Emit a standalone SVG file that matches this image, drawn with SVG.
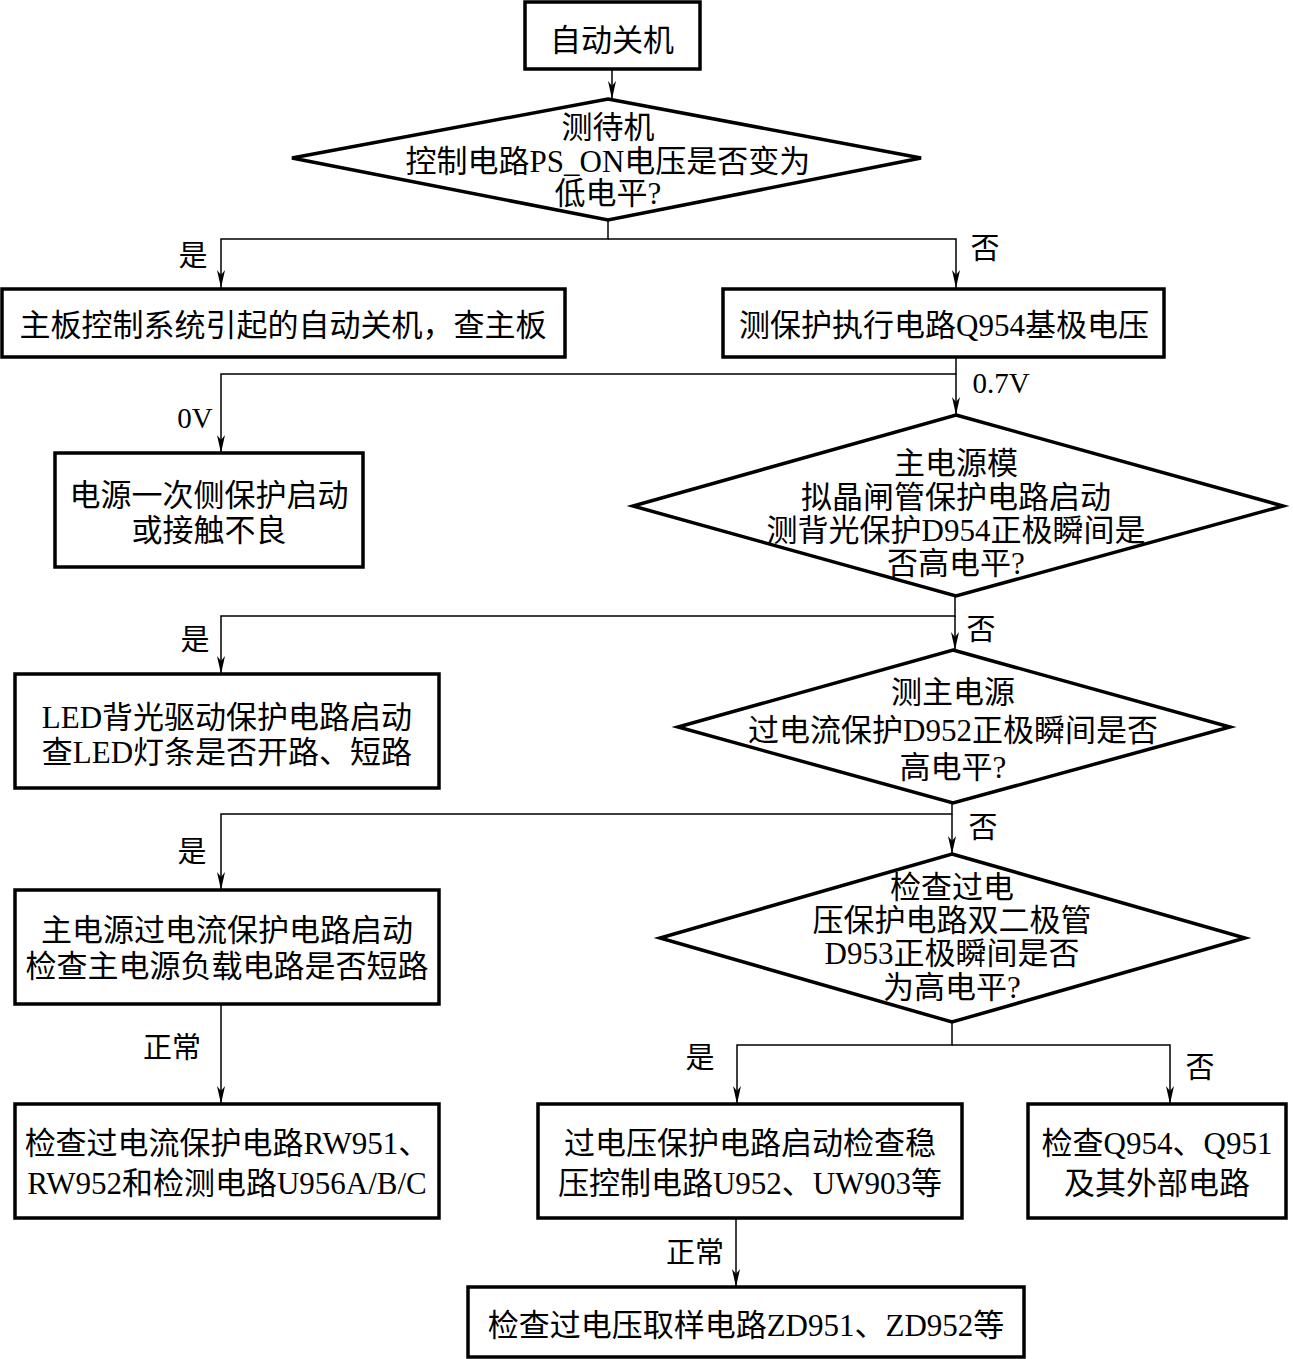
<svg xmlns="http://www.w3.org/2000/svg" width="1293" height="1359" viewBox="0 0 1293 1359">
<defs>
<style>
.n{fill:#fff;stroke:#000;stroke-width:3.5}
.c{fill:none;stroke:#000;stroke-width:1.5}
text{font-family:"Liberation Serif","Noto Sans CJK SC",serif;font-size:31px;fill:#000;text-anchor:middle;dominant-baseline:central}
.l{font-size:29px}
</style>
<marker id="a" viewBox="0 0 18 8" refX="18" refY="4" markerWidth="18" markerHeight="8" markerUnits="userSpaceOnUse" orient="auto">
<path d="M0,0 L18,4 L0,8 L5,4 Z" fill="#000"/>
</marker>
</defs>
<rect width="1293" height="1359" fill="#fff"/>
<g id="connectors">
<path class="c" d="M612,69 V99" marker-end="url(#a)"/>
<path class="c" d="M608,220 V239 H221 V288" marker-end="url(#a)"/>
<path class="c" d="M608,239 H956 V288" marker-end="url(#a)"/>
<path class="c" d="M956,357 V374 H221 V453" marker-end="url(#a)"/>
<path class="c" d="M956,374 V415" marker-end="url(#a)"/>
<path class="c" d="M955,596 V616 H221 V674" marker-end="url(#a)"/>
<path class="c" d="M955,616 V650" marker-end="url(#a)"/>
<path class="c" d="M952,803 V814 H221 V890" marker-end="url(#a)"/>
<path class="c" d="M952,814 V854" marker-end="url(#a)"/>
<path class="c" d="M952,1022 V1045 H737 V1104" marker-end="url(#a)"/>
<path class="c" d="M952,1045 H1170 V1104" marker-end="url(#a)"/>
<path class="c" d="M221,1004 V1104" marker-end="url(#a)"/>
<path class="c" d="M736,1218 V1287" marker-end="url(#a)"/>
<text class="l" x="193" y="256">是</text>
<text class="l" x="985" y="249">否</text>
<text class="l" x="1001" y="383">0.7V</text>
<text class="l" x="195" y="418">0V</text>
<text class="l" x="195" y="640">是</text>
<text class="l" x="981" y="630">否</text>
<text class="l" x="192" y="852">是</text>
<text class="l" x="983" y="828">否</text>
<text class="l" x="172" y="1048">正常</text>
<text class="l" x="700" y="1058">是</text>
<text class="l" x="1200" y="1068">否</text>
<text class="l" x="695" y="1253">正常</text>
</g>
<g id="n1">
<rect class="n" x="525" y="2" width="175" height="67"/>
<text x="612" y="40">自动关机</text>
</g>
<g id="n2">
<polygon class="n" points="608,99 921,158 608,220 292,158"/>
<text x="608" y="127">测待机</text>
<text x="608" y="161">控制电路PS_ON电压是否变为</text>
<text x="608" y="193">低电平?</text>
</g>
<g id="n3">
<rect class="n" x="2" y="289" width="563" height="68"/>
<text x="283" y="325">主板控制系统引起的自动关机，查主板</text>
</g>
<g id="n4">
<rect class="n" x="723" y="289" width="441" height="68"/>
<text x="944" y="325">测保护执行电路Q954基极电压</text>
</g>
<g id="n5">
<rect class="n" x="55" y="453" width="308" height="114"/>
<text x="209" y="495">电源一次侧保护启动</text>
<text x="209" y="530">或接触不良</text>
</g>
<g id="n6">
<polygon class="n" points="956,415 1283,506 956,596 633,506"/>
<text x="956" y="463">主电源模</text>
<text x="956" y="497">拟晶闸管保护电路启动</text>
<text x="956" y="530">测背光保护D954正极瞬间是</text>
<text x="956" y="563">否高电平?</text>
</g>
<g id="n7">
<rect class="n" x="15" y="674" width="424" height="114"/>
<text x="227" y="717">LED背光驱动保护电路启动</text>
<text x="227" y="752">查LED灯条是否开路、短路</text>
</g>
<g id="n8">
<polygon class="n" points="953,650 1230,727 953,803 678,727"/>
<text x="953" y="692">测主电源</text>
<text x="953" y="730">过电流保护D952正极瞬间是否</text>
<text x="953" y="767">高电平?</text>
</g>
<g id="n9">
<rect class="n" x="15" y="890" width="424" height="114"/>
<text x="227" y="930">主电源过电流保护电路启动</text>
<text x="227" y="966">检查主电源负载电路是否短路</text>
</g>
<g id="n10">
<polygon class="n" points="952,854 1245,938 952,1022 660,938"/>
<text x="952" y="887">检查过电</text>
<text x="952" y="920">压保护电路双二极管</text>
<text x="952" y="953">D953正极瞬间是否</text>
<text x="952" y="987">为高电平?</text>
</g>
<g id="n11">
<rect class="n" x="15" y="1104" width="424" height="114"/>
<text x="227" y="1143">检查过电流保护电路RW951、</text>
<text x="227" y="1183">RW952和检测电路U956A/B/C</text>
</g>
<g id="n12">
<rect class="n" x="538" y="1104" width="424" height="114"/>
<text x="750" y="1143">过电压保护电路启动检查稳</text>
<text x="750" y="1183">压控制电路U952、UW903等</text>
</g>
<g id="n13">
<rect class="n" x="1028" y="1104" width="258" height="114"/>
<text x="1157" y="1143">检查Q954、Q951</text>
<text x="1157" y="1183">及其外部电路</text>
</g>
<g id="n14">
<rect class="n" x="468" y="1287" width="556" height="70"/>
<text x="746" y="1325">检查过电压取样电路ZD951、ZD952等</text>
</g>
</svg>
